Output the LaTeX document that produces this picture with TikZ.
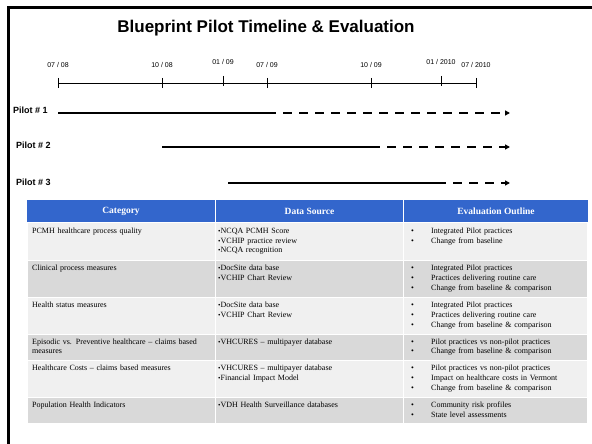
\documentclass[tikz,border=0pt]{standalone}
\usepackage{fontspec}
\setmainfont{Liberation Serif}
\setsansfont{Liberation Sans}
\usetikzlibrary{arrows.meta}
\definecolor{hdrblue}{HTML}{3366CC}
\definecolor{rowlight}{HTML}{F0F0F0}
\definecolor{rowdark}{HTML}{D9D9D9}
\newcommand{\dsb}{{\fontsize{7}{7}\selectfont\textbullet}}
\newcommand{\evb}{\makebox[20pt][l]{\textbullet}}
\tikzset{
    datelabel/.style={font=\sffamily\fontsize{7}{8}\selectfont},
    pilotlabel/.style={font=\sffamily\bfseries\fontsize{9}{10}\selectfont, anchor=west, inner sep=0pt},
    plan/.style={line width=1.4pt},
    ext/.style={line width=1.4pt, dash pattern=on 9pt off 7pt, -{Triangle[length=5pt,width=5pt]}},
    hdr/.style={font=\bfseries\fontsize{9.5}{11}\selectfont, text=white},
    cell/.style={anchor=north west, align=left, inner sep=0pt, font=\fontsize{8}{9.7}\selectfont, text width=#1},
    light/.style={fill=rowlight, draw=white, line width=1.5pt},
    dark/.style={fill=rowdark, draw=white, line width=1.5pt}
}
\begin{document}
\begin{tikzpicture}[x=1pt,y=-1pt]
    \useasboundingbox (0,0) rectangle (592,444);
    \draw[line width=2.5pt] (8.5,444) -- (8.5,7.5) -- (592,7.5);

    \node[font=\sffamily\bfseries\fontsize{17}{20}\selectfont] (title) at (266,28) {Blueprint Pilot Timeline \& Evaluation};

    \coordinate (t0) at (58,83);
    \coordinate (t6) at (476,83);
    \draw[line width=0.8pt] (t0) -- (t6);
    \foreach \x/\lbl/\ly/\tt [count=\i] in {58/{07 / 08}/65/78, 162/{10 / 08}/65/78, 223/{01 / 09}/62/76, 267/{07 / 09}/65/78, 371/{10 / 09}/65/78, 441/{01 / 2010}/62/76, 476/{07 / 2010}/65/78} {
        \draw[line width=0.8pt] (\x,\tt) -- (\x,\tt+10);
        \node[datelabel] (d\i) at (\x,\ly) {\lbl};
    }

    \node[pilotlabel] (p1) at (13,110) {Pilot \# 1};
    \coordinate (p1s) at (58,113);
    \coordinate (p1m) at (267,113);
    \coordinate (p1e) at (510,113);
    \draw[plan] (p1s) -- (p1m);
    \draw[ext] (p1m) -- (p1e);

    \node[pilotlabel] (p2) at (16,145) {Pilot \# 2};
    \coordinate (p2s) at (162,147);
    \coordinate (p2m) at (371,147);
    \coordinate (p2e) at (510,147);
    \draw[plan] (p2s) -- (p2m);
    \draw[ext] (p2m) -- (p2e);

    \node[pilotlabel] (p3) at (16,182) {Pilot \# 3};
    \coordinate (p3s) at (228,183);
    \coordinate (p3m) at (437,183);
    \coordinate (p3e) at (510,183);
    \draw[plan] (p3s) -- (p3m);
    \draw[ext] (p3m) -- (p3e);

    \fill[hdrblue] (27,200) rectangle (588,222.5);
    \draw[white, line width=1.5pt] (215.5,200) -- (215.5,222.5) (403.5,200) -- (403.5,222.5);
    \node[hdr] (hcat) at (121,211.5) {Category};
    \node[hdr] (hsrc) at (309.5,211.5) {Data Source};
    \node[hdr] (hout) at (496,211.5) {Evaluation Outline};

    \draw[light] (27,222.5) rectangle (215.5,260.5);
    \draw[light] (215.5,222.5) rectangle (403.5,260.5);
    \draw[light] (403.5,222.5) rectangle (588,260.5);
    \draw[dark] (27,260.5) rectangle (215.5,297.5);
    \draw[dark] (215.5,260.5) rectangle (403.5,297.5);
    \draw[dark] (403.5,260.5) rectangle (588,297.5);
    \draw[light] (27,297.5) rectangle (215.5,334.5);
    \draw[light] (215.5,297.5) rectangle (403.5,334.5);
    \draw[light] (403.5,297.5) rectangle (588,334.5);
    \draw[dark] (27,334.5) rectangle (215.5,360.5);
    \draw[dark] (215.5,334.5) rectangle (403.5,360.5);
    \draw[dark] (403.5,334.5) rectangle (588,360.5);
    \draw[light] (27,360.5) rectangle (215.5,397.5);
    \draw[light] (215.5,360.5) rectangle (403.5,397.5);
    \draw[light] (403.5,360.5) rectangle (588,397.5);
    \draw[dark] (27,397.5) rectangle (215.5,424);
    \draw[dark] (215.5,397.5) rectangle (403.5,424);
    \draw[dark] (403.5,397.5) rectangle (588,424);

    \node[cell=178pt] (c1) at (32,228) {PCMH healthcare process quality};
    \node[cell=180pt] (s1) at (218,228) {\dsb NCQA PCMH Score\\ \dsb VCHIP practice review\\ \dsb NCQA recognition};
    \node[cell=176pt] (e1) at (411,228) {\evb Integrated Pilot practices\\ \evb Change from baseline};

    \node[cell=178pt] (c2) at (32,265) {Clinical process measures};
    \node[cell=180pt] (s2) at (218,265) {\dsb DocSite data base\\ \dsb VCHIP Chart Review};
    \node[cell=176pt] (e2) at (411,265) {\evb Integrated Pilot practices\\ \evb Practices delivering routine care\\ \evb Change from baseline \& comparison};

    \node[cell=178pt] (c3) at (32,302) {Health status measures};
    \node[cell=180pt] (s3) at (218,302) {\dsb DocSite data base\\ \dsb VCHIP Chart Review};
    \node[cell=176pt] (e3) at (411,302) {\evb Integrated Pilot practices\\ \evb Practices delivering routine care\\ \evb Change from baseline \& comparison};

    \node[cell=178pt] (c4) at (32,338.5) {Episodic vs. Preventive healthcare -- claims based\\ measures};
    \node[cell=180pt] (s4) at (218,338.5) {\dsb VHCURES -- multipayer database};
    \node[cell=176pt] (e4) at (411,338.5) {\evb Pilot practices vs non-pilot practices\\ \evb Change from baseline \& comparison};

    \node[cell=178pt] (c5) at (32,365) {Healthcare Costs -- claims based measures};
    \node[cell=180pt] (s5) at (218,365) {\dsb VHCURES -- multipayer database\\ \dsb Financial Impact Model};
    \node[cell=176pt] (e5) at (411,365) {\evb Pilot practices vs non-pilot practices\\ \evb Impact on healthcare costs in Vermont\\ \evb Change from baseline \& comparison};

    \node[cell=178pt] (c6) at (32,402) {Population Health Indicators};
    \node[cell=180pt] (s6) at (218,402) {\dsb VDH Health Surveillance databases};
    \node[cell=176pt] (e6) at (411,402) {\evb Community risk profiles\\ \evb State level assessments};
\end{tikzpicture}
\end{document}
